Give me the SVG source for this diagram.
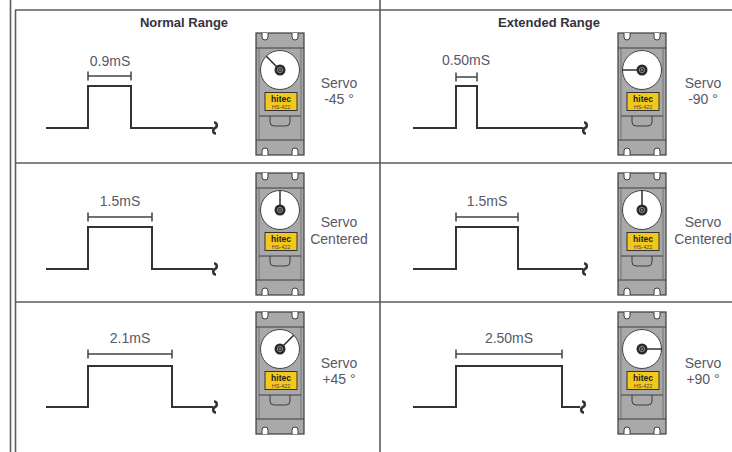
<svg xmlns="http://www.w3.org/2000/svg" width="732" height="452" viewBox="0 0 732 452">
<style>
.grid{stroke:#5c5c5c;stroke-width:1.6;fill:none}
.pulse{stroke:#333;stroke-width:2;fill:none}
.dim{stroke:#444;stroke-width:1.5;fill:none}
.brk{stroke:#333;stroke-width:2.6;fill:none}
.hdr{font-family:"Liberation Sans",Arial,sans-serif;font-size:13px;font-weight:bold;fill:#33333f;text-anchor:middle}
.lbl{font-family:"Liberation Sans",Arial,sans-serif;font-size:14px;fill:#585866;text-anchor:middle}
.horn{stroke:#222;stroke-width:1.4}
.body{fill:#a9a9a9;stroke:#3c3c3c;stroke-width:1.2}
.ln{stroke:#3c3c3c;stroke-width:1;fill:none}
.in{stroke:#666;stroke-width:0.8;fill:none}
.notch{fill:#fff;stroke:#3c3c3c;stroke-width:1}
</style>
<defs>
<symbol id="servo" overflow="visible">
<rect class="body" x="0" y="0" width="48" height="122"/>
<line class="ln" x1="0" y1="15" x2="48" y2="15"/>
<line class="ln" x1="0" y1="107" x2="48" y2="107"/>
<line class="in" x1="3" y1="15" x2="3" y2="107"/>
<line class="in" x1="45" y1="15" x2="45" y2="107"/>
<path class="notch" d="M6 0 V4 A3 3 0 0 0 12 4 V0"/>
<path class="notch" d="M36 0 V4 A3 3 0 0 0 42 4 V0"/>
<path class="notch" d="M6 122 V118 A3 3 0 0 1 12 118 V122"/>
<path class="notch" d="M36 122 V118 A3 3 0 0 1 42 118 V122"/>
<circle cx="24" cy="37" r="19.5" fill="#fff" stroke="#444" stroke-width="1"/>
<rect x="9" y="59.5" width="32" height="18" fill="#f3c81c" stroke="#333" stroke-width="1"/>
<text x="25" y="68.5" font-family="'Liberation Sans',Arial,sans-serif" font-size="8.5" font-weight="bold" fill="#222" text-anchor="middle">hitec</text>
<text x="25" y="75.5" font-family="'Liberation Sans',Arial,sans-serif" font-size="5.5" fill="#444" text-anchor="middle">HS-422</text>
<line class="ln" x1="3" y1="83" x2="45" y2="83"/>
<path class="ln" d="M14 83 V89 Q14 93 18 93 H30 Q34 93 34 89 V83"/>
</symbol>
<symbol id="hub" overflow="visible">
<circle cx="24" cy="37" r="5.5" fill="#2a2a2a"/>
<circle cx="24" cy="37" r="2.6" fill="none" stroke="#9a9a9a" stroke-width="0.9"/>
<circle cx="24" cy="37" r="0.9" fill="#9a9a9a"/>
</symbol>
<path id="brk" class="brk" d="M0 -5.5 C3.5 -5.5 3.5 -1 1 0 C-1.5 1 -1.5 5.5 2 5.5"/>
</defs>
<rect width="732" height="452" fill="#fff"/>
<g id="grid">
<line class="grid" x1="10.5" y1="0" x2="10.5" y2="452"/>
<line class="grid" x1="15.5" y1="10" x2="15.5" y2="452"/>
<line class="grid" x1="15" y1="10" x2="732" y2="10"/>
<line class="grid" x1="380" y1="0" x2="380" y2="452"/>
<line class="grid" x1="15" y1="163" x2="732" y2="163" stroke-width="2"/>
<line class="grid" x1="15" y1="302" x2="732" y2="302" stroke-width="2"/>
</g>
<g id="header-normal"><text class="hdr" x="184" y="27">Normal Range</text></g>
<g id="header-extended"><text class="hdr" x="549" y="27">Extended Range</text></g>

<g id="normal-minus45">
<path class="pulse" d="M46 128 H88 V86 H131 V128 H213"/>
<use href="#brk" x="214" y="128"/>
<path class="dim" d="M88 76 H131 M88 71.5 V80.5 M131 71.5 V80.5"/>
<text class="lbl" x="110" y="66">0.9mS</text>
<g transform="translate(256,33)"><use href="#servo"/><line class="horn" x1="24" y1="37" x2="10.3" y2="23.3"/><use href="#hub"/></g>
<text class="lbl" x="339" y="88">Servo</text>
<text class="lbl" x="339" y="104">-45 °</text>
</g>

<g id="extended-minus90">
<path class="pulse" d="M413 128 H456 V86 H477 V128 H583"/>
<use href="#brk" x="584" y="128"/>
<path class="dim" d="M456 77 H477 M456 72.5 V81.5 M477 72.5 V81.5"/>
<text class="lbl" x="466" y="65">0.50mS</text>
<g transform="translate(618,33)"><use href="#servo"/><line class="horn" x1="24" y1="37" x2="4.5" y2="37"/><use href="#hub"/></g>
<text class="lbl" x="703" y="88">Servo</text>
<text class="lbl" x="703" y="104">-90 °</text>
</g>

<g id="normal-centered">
<path class="pulse" d="M46 269 H88 V227 H152 V269 H213"/>
<use href="#brk" x="214" y="269"/>
<path class="dim" d="M88 217 H152 M88 212.5 V221.5 M152 212.5 V221.5"/>
<text class="lbl" x="120" y="206">1.5mS</text>
<g transform="translate(256,173)"><use href="#servo"/><line class="horn" x1="24" y1="37" x2="24" y2="17.5"/><use href="#hub"/></g>
<text class="lbl" x="339" y="227">Servo</text>
<text class="lbl" x="339" y="244">Centered</text>
</g>

<g id="extended-centered">
<path class="pulse" d="M413 269 H456 V227 H518 V269 H583"/>
<use href="#brk" x="584" y="269"/>
<path class="dim" d="M456 217 H518 M456 212.5 V221.5 M518 212.5 V221.5"/>
<text class="lbl" x="487" y="206">1.5mS</text>
<g transform="translate(618,173)"><use href="#servo"/><line class="horn" x1="24" y1="37" x2="24" y2="17.5"/><use href="#hub"/></g>
<text class="lbl" x="703" y="227">Servo</text>
<text class="lbl" x="703" y="244">Centered</text>
</g>

<g id="normal-plus45">
<path class="pulse" d="M46 407 H88 V366 H172 V407 H213"/>
<use href="#brk" x="214" y="407"/>
<path class="dim" d="M88 354 H172 M88 349.5 V358.5 M172 349.5 V358.5"/>
<text class="lbl" x="130" y="343">2.1mS</text>
<g transform="translate(256,312)"><use href="#servo"/><line class="horn" x1="24" y1="37" x2="37.7" y2="23.3"/><use href="#hub"/></g>
<text class="lbl" x="339" y="368">Servo</text>
<text class="lbl" x="339" y="384">+45 °</text>
</g>

<g id="extended-plus90">
<path class="pulse" d="M413 407 H456 V366 H562 V407 H580"/>
<use href="#brk" x="582" y="407"/>
<path class="dim" d="M456 354 H562 M456 349.5 V358.5 M562 349.5 V358.5"/>
<text class="lbl" x="509" y="343">2.50mS</text>
<g transform="translate(618,312)"><use href="#servo"/><line class="horn" x1="24" y1="37" x2="43.5" y2="37"/><use href="#hub"/></g>
<text class="lbl" x="703" y="368">Servo</text>
<text class="lbl" x="703" y="384">+90 °</text>
</g>
</svg>
